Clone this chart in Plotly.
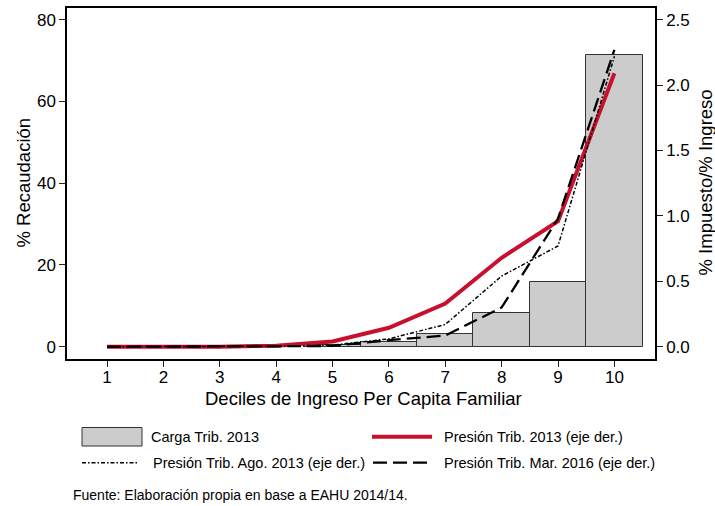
import plotly.graph_objects as go

deciles = [1, 2, 3, 4, 5, 6, 7, 8, 9, 10]
carga_2013 = [0.0, 0.0, 0.0, 0.0, 0.3, 1.05, 3.0, 8.2, 15.8, 71.3]
presion_2013 = [0.0, 0.0, 0.0, 0.008, 0.04, 0.145, 0.33, 0.68, 0.96, 2.09]
presion_ago_2013 = [0.0, 0.0, 0.0, 0.004, 0.012, 0.06, 0.17, 0.54, 0.77, 2.22]
presion_mar_2016 = [0.0, 0.0, 0.0, 0.003, 0.006, 0.05, 0.085, 0.30, 0.98, 2.27]
left_ticks = [0, 20, 40, 60, 80]
right_ticks = [0.0, 0.5, 1.0, 1.5, 2.0, 2.5]

FONT = "Liberation Sans, Arial, sans-serif"
RED = "rgb(200,16,46)"
GRAY = "rgb(204,204,204)"
DASHDOT = "4px,2px,1.5px,2px"
LONGDASH = "14px,6px"

# plot area in pixels
L, R, T, B = 67, 655, 8, 359
W, H = 715, 506
PW, PH = R - L, B - T


def px(x):
    return (x - L) / PW


def py(y):
    return (B - y) / PH


bar_outline = [1 if v > 0 else 0 for v in carga_2013]

fig = go.Figure()
fig.add_trace(go.Bar(x=deciles, y=carga_2013, width=1,
                     marker=dict(color=GRAY, line=dict(color="#333", width=bar_outline)),
                     name="Carga Trib. 2013"))
fig.add_trace(go.Scatter(x=deciles, y=presion_2013, yaxis="y2", mode="lines",
                         line=dict(color=RED, width=4),
                         name="Presión Trib. 2013 (eje der.)"))
fig.add_trace(go.Scatter(x=deciles, y=presion_ago_2013, yaxis="y2", mode="lines",
                         line=dict(color="black", width=1.5, dash=DASHDOT),
                         name="Presión Trib. Ago. 2013 (eje der.)"))
fig.add_trace(go.Scatter(x=deciles, y=presion_mar_2016, yaxis="y2", mode="lines",
                         line=dict(color="black", width=2.3, dash=LONGDASH),
                         name="Presión Trib. Mar. 2016 (eje der.)"))

axis_common = dict(showgrid=False, zeroline=False, ticks="outside", ticklen=6, tickwidth=1.2,
                   tickcolor="#222", linecolor="black", linewidth=1.5, showline=True,
                   automargin=False,
                   tickfont=dict(family=FONT, size=17, color="black"))

y0, y1 = -3.01, 82.86
scale2 = 2.5 / 80

fig.update_layout(
    width=W, height=H,
    margin=dict(l=L, r=W - R, t=T, b=H - B),
    plot_bgcolor="white", paper_bgcolor="white",
    showlegend=False, bargap=0,
    font=dict(family=FONT, color="black"),
    xaxis=dict(range=[0.29, 10.72], tickvals=deciles, mirror=True, ticklabelstandoff=-4, **axis_common),
    yaxis=dict(range=[y0, y1], tickvals=left_ticks, **axis_common),
    yaxis2=dict(range=[y0 * scale2, y1 * scale2], tickvals=right_ticks, tickformat=".1f",
                overlaying="y", side="right", **axis_common),
)

shapes = []
annots = []
# axis titles
annots.append(dict(text="Deciles de Ingreso Per Capita Familiar", xref="paper", yref="paper",
                   x=px(363), y=py(399), xanchor="center", yanchor="middle", showarrow=False,
                   font=dict(family=FONT, size=18.5, color="black")))
annots.append(dict(text="% Recaudación", xref="paper", yref="paper", textangle=-90,
                   x=px(22.5), y=py(183), xanchor="center", yanchor="middle", showarrow=False,
                   font=dict(family=FONT, size=18.5, color="black")))
annots.append(dict(text="% Impuesto/% Ingreso", xref="paper", yref="paper", textangle=-90,
                   x=px(704.5), y=py(183), xanchor="center", yanchor="middle", showarrow=False,
                   font=dict(family=FONT, size=18.5, color="black")))

# legend
shapes.append(dict(type="rect", xref="paper", yref="paper",
                   x0=px(82), x1=px(142), y0=py(446), y1=py(427.5),
                   fillcolor=GRAY, line=dict(color="#333", width=1)))
shapes.append(dict(type="line", xref="paper", yref="paper",
                   x0=px(372), x1=px(432), y0=py(436.7), y1=py(436.7),
                   line=dict(color=RED, width=4)))
shapes.append(dict(type="line", xref="paper", yref="paper",
                   x0=px(82), x1=px(138), y0=py(462.7), y1=py(462.7),
                   line=dict(color="black", width=1.5, dash=DASHDOT)))
shapes.append(dict(type="line", xref="paper", yref="paper",
                   x0=px(373), x1=px(432), y0=py(462.7), y1=py(462.7),
                   line=dict(color="black", width=2.3, dash=LONGDASH)))

legend_texts = [
    ("Carga Trib. 2013", 149, 436.7),
    ("Presión Trib. 2013 (eje der.)", 442, 436.7),
    ("Presión Trib. Ago. 2013 (eje der.)", 151, 462.7),
    ("Presión Trib. Mar. 2016 (eje der.)", 442, 462.7),
]
for txt, x, y in legend_texts:
    annots.append(dict(text=txt, xref="paper", yref="paper",
                       x=px(x), y=py(y), xanchor="left", yanchor="middle",
                       showarrow=False, font=dict(family=FONT, size=14.5, color="black")))
annots.append(dict(text="Fuente: Elaboración propia en base a EAHU 2014/14.", xref="paper", yref="paper",
                   x=px(71), y=py(495), xanchor="left", yanchor="middle",
                   showarrow=False, font=dict(family=FONT, size=14, color="black")))

fig.update_layout(shapes=shapes, annotations=annots)
fig.write_html("out.html", config={"displayModeBar": False},
               post_script="document.body.style.margin='0';document.body.style.overflow='hidden';")
